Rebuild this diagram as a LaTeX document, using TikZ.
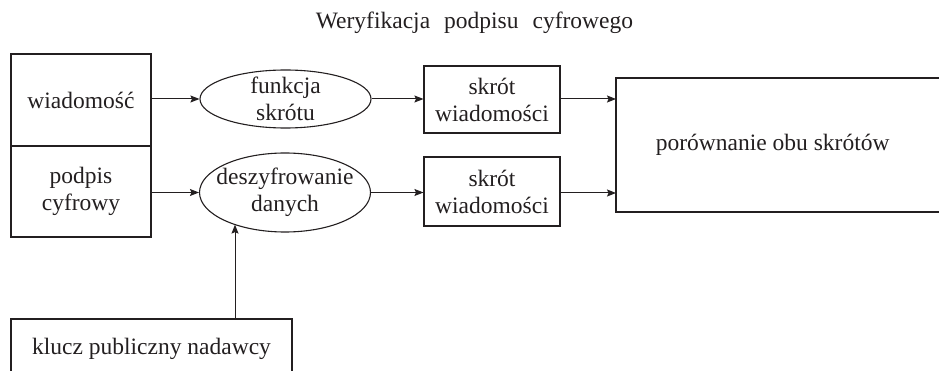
\documentclass[tikz,border=0pt]{standalone}
\usepackage{fontspec}
\setmainfont{Liberation Serif}
\usetikzlibrary{shapes.geometric,arrows.meta}
\definecolor{ink}{RGB}{35,31,32}
\begin{document}
\begin{tikzpicture}[x=1pt,y=-1pt,
  every node/.style={font=\fontsize{23.5}{27}\selectfont, text=ink},
  box/.style={draw=ink, line width=1.1pt, rectangle, inner sep=0pt, align=center},
  ell/.style={draw=ink, line width=1.1pt, ellipse, inner sep=0pt},
  txt/.style={align=center, inner sep=0pt},
  arr/.style={draw=ink, line width=1pt, -{Stealth[length=9pt,width=7pt,inset=1.5pt]}}]
\useasboundingbox (0,0) rectangle (939,371);
\begin{scope}
\clip (0,0) rectangle (939,371);
\node[anchor=base] (title) at (474.5,29) {Weryfikacja\hspace{14pt}podpisu\hspace{14pt}cyfrowego};
\node[box, minimum width=140, minimum height=92] (wiad) at (81,100) {wiadomość};
\node[box, minimum width=140, minimum height=91] (podpis) at (81,191.5) {podpis\\cyfrowy};
\node[ell, minimum width=171, minimum height=58, label={[txt]center:{funkcja\\skrótu}}] (e1) at (285.5,99) {};
\node[ell, minimum width=171, minimum height=79, label={[txt]center:{deszyfrowanie\\danych}}] (e2) at (285,192.5) {};
\node[box, minimum width=136, minimum height=67] (s1) at (492,99.5) {skrót\\wiadomości};
\node[box, minimum width=136, minimum height=69] (s2) at (492,191.5) {skrót\\wiadomości};
\node[box, minimum width=354, minimum height=134] (big) at (793,145) {};
\node[txt] (bigtxt) at (772.7,145) {porównanie obu skrótów};
\node[box, minimum width=281, minimum height=60] (klucz) at (151.5,349) {klucz publiczny nadawcy};
\coordinate (kx) at (235,0);
\coordinate (b1) at (616,99);
\coordinate (b2) at (616,193);
\draw[arr] (wiad.east |- e1.west) -- (e1.west);
\draw[arr] (e1.east) -- (s1.west |- e1.east);
\draw[arr] (s1.east |- b1) -- (b1);
\draw[arr] (podpis.east |- e2.west) -- (e2.west);
\draw[arr] (e2.east) -- (s2.west |- e2.east);
\draw[arr] (s2.east |- b2) -- (b2);
\draw[arr] (kx |- klucz.north) -- (kx |- e2.212.6);
\end{scope}
\end{tikzpicture}
\end{document}
